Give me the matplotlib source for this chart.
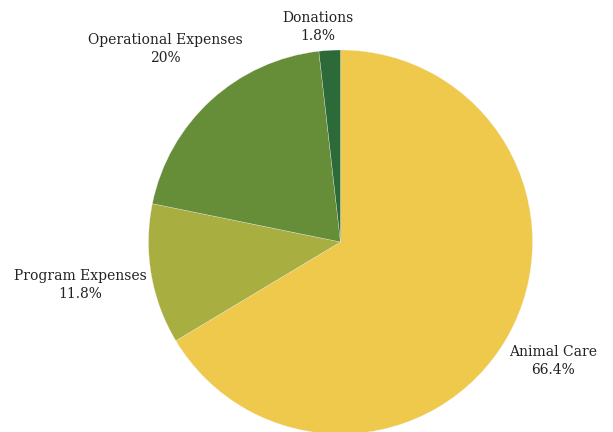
import numpy as np
import matplotlib
matplotlib.use("Agg")
from matplotlib import pyplot as plt

categories = ["Animal Care", "Program Expenses", "Operational Expenses", "Donations"]
values = [66.4, 11.8, 20.0, 1.8]
pct_labels = ["66.4%", "11.8%", "20%", "1.8%"]
colors = ["#EFC94C", "#A9AE40", "#668E39", "#2D6A39"]
label_dist = [1.27, 1.375, 1.358, 1.126]
label_shift = [0.2, -0.4, -0.2, 2.8]  # degrees

fig = plt.figure(figsize=(6.13, 4.32), dpi=100)
ax = fig.add_axes([0, 0, 1, 1])

wedges, _ = ax.pie(values, colors=colors, startangle=90, counterclock=False,
                   radius=1, wedgeprops={"edgecolor": "#f4f4f4", "linewidth": 0.2})

for w, name, pct, d, s in zip(wedges, categories, pct_labels, label_dist, label_shift):
    ang = np.deg2rad((w.theta1 + w.theta2) / 2 + s)
    ax.text(d * np.cos(ang), d * np.sin(ang), f"{name}\n{pct}", ha="center", va="center",
            fontsize=10, family="DejaVu Serif", color="#222222", linespacing=1.35)

ax.set_aspect("equal")
ax.set_xlim(-340.5 / 192, (613 - 340.5) / 192)
ax.set_ylim(-190 / 192, 242 / 192)
ax.axis("off")

plt.savefig("out.png", dpi=100)
